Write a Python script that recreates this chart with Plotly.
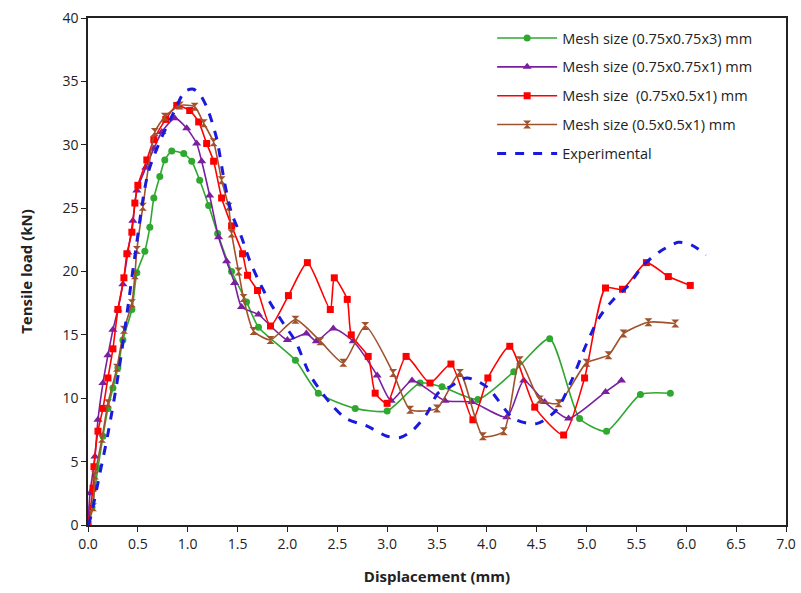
import plotly.graph_objects as go

# Mesh size (0.75x0.75x3) mm
green_x = [0, 0.04, 0.10, 0.15, 0.20, 0.25, 0.30, 0.35, 0.44, 0.49, 0.57, 0.62, 0.66, 0.72, 0.77, 0.84,
           0.96, 1.04, 1.12, 1.21, 1.30, 1.44, 1.59, 1.71, 2.08, 2.31, 2.68, 3.00, 3.33, 3.55, 3.91,
           4.27, 4.63, 4.93, 5.20, 5.54, 5.84]
green_y = [0, 1.4, 4.5, 7.0, 9.2, 10.8, 12.4, 14.6, 17.0, 19.9, 21.6, 23.5, 25.8, 27.5, 28.8, 29.5,
           29.3, 28.7, 27.2, 25.2, 23.0, 20.0, 17.6, 15.6, 13.0, 10.4, 9.2, 9.0, 11.2, 10.9, 9.9,
           12.1, 14.7, 8.4, 7.4, 10.3, 10.4]

# Mesh size (0.75x0.75x1) mm
purple_x = [0, 0.02, 0.07, 0.10, 0.15, 0.20, 0.25, 0.30, 0.35, 0.40, 0.45, 0.49, 0.58, 0.66, 0.74,
            0.87, 0.99, 1.09, 1.14, 1.22, 1.31, 1.39, 1.47, 1.54, 1.71, 2.00, 2.19, 2.29, 2.46,
            2.66, 2.90, 3.04, 3.25, 3.58, 3.85, 4.20, 4.37, 4.58, 4.82, 5.19, 5.35]
purple_y = [0, 2.5, 5.4, 8.3, 11.2, 13.4, 15.4, 17.0, 19.0, 21.5, 24.0, 26.4, 28.2, 29.7, 31.0,
            32.1, 31.3, 30.1, 28.7, 26.0, 22.7, 20.8, 19.1, 17.2, 16.6, 14.6, 15.1, 14.5, 15.5,
            14.5, 11.8, 9.8, 11.4, 9.8, 9.7, 8.5, 11.4, 9.7, 8.4, 10.5, 11.4]

# Mesh size (0.75x0.5x1) mm
red_x = [0, 0.05, 0.06, 0.10, 0.15, 0.20, 0.25, 0.30, 0.36, 0.39, 0.44, 0.47, 0.50, 0.59, 0.66,
         0.78, 0.89, 1.02, 1.11, 1.19, 1.26, 1.34, 1.44, 1.55, 1.60, 1.70, 1.83, 2.01, 2.20,
         2.43, 2.47, 2.60, 2.64, 2.81, 2.88, 3.00, 3.19, 3.43, 3.64, 3.86, 4.01, 4.23, 4.48,
         4.77, 4.98, 5.19, 5.36, 5.60, 5.82, 6.04]
red_y = [0, 2.9, 4.6, 7.4, 9.2, 11.6, 13.9, 17.0, 19.5, 21.4, 23.1, 25.4, 26.8, 28.8, 30.4,
         32.0, 33.1, 32.7, 31.8, 30.1, 28.7, 25.8, 23.6, 21.4, 19.7, 18.5, 15.7, 18.1, 20.7,
         17.0, 19.5, 17.8, 15.0, 13.3, 10.4, 9.6, 13.3, 11.2, 12.7, 8.3, 11.6, 14.1, 9.3,
         7.1, 11.6, 18.7, 18.6, 20.7, 19.6, 18.9]

# Mesh size (0.5x0.5x1) mm
brown_x = [0, 0.05, 0.07, 0.14, 0.20, 0.29, 0.36, 0.44, 0.47, 0.49, 0.55, 0.67, 0.77, 0.92, 1.07,
           1.16, 1.26, 1.34, 1.41, 1.44, 1.51, 1.56, 1.66, 1.83, 2.08, 2.33, 2.56, 2.78, 3.06,
           3.23, 3.50, 3.73, 3.96, 4.17, 4.33, 4.53, 4.72, 5.00, 5.22, 5.37, 5.62, 5.89]
brown_y = [0, 1.4, 3.9, 6.8, 9.6, 12.4, 15.4, 17.5, 19.7, 21.7, 25.1, 31.0, 32.2, 33.1, 33.0,
           31.7, 30.2, 27.2, 25.1, 23.0, 20.0, 17.9, 15.3, 14.6, 16.2, 14.5, 12.8, 15.7, 12.0,
           9.1, 9.2, 12.0, 7.0, 7.4, 13.0, 9.9, 9.6, 12.8, 13.4, 15.1, 16.0, 15.9]

# Experimental
exp_x = [0, 0.02, 0.12, 0.20, 0.29, 0.34, 0.40, 0.47, 0.60, 0.74, 0.87, 0.97, 1.05, 1.12, 1.20,
         1.29, 1.37, 1.44, 1.54, 1.62, 1.71, 1.83, 1.96, 2.08, 2.23, 2.43, 2.59, 2.80, 3.00,
         3.13, 3.26, 3.40, 3.51, 3.63, 3.80, 4.00, 4.27, 4.50, 4.70, 4.85, 5.00, 5.13, 5.27,
         5.42, 5.57, 5.74, 5.92, 6.05, 6.20]
exp_y = [0, 0.4, 4.1, 7.2, 11.2, 13.8, 17.2, 21.2, 27.7, 30.6, 32.7, 34.2, 34.4, 34.0, 32.8,
         30.5, 27.0, 24.6, 22.7, 20.9, 19.3, 17.5, 15.9, 14.5, 11.8, 9.6, 8.4, 7.8, 7.0,
         6.9, 7.5, 8.8, 10.4, 10.9, 11.6, 10.9, 8.4, 8.0, 9.1, 11.4, 14.3, 16.4, 17.8,
         18.9, 20.5, 21.6, 22.3, 22.1, 21.3]

x_ticks = [0, 0.5, 1, 1.5, 2, 2.5, 3, 3.5, 4, 4.5, 5, 5.5, 6, 6.5, 7]
y_ticks = [0, 5, 10, 15, 20, 25, 30, 35, 40]

fig = go.Figure()

series = [
    ("Mesh size (0.75x0.75x3) mm", green_x, green_y, "#2fa82f", "circle", 7),
    ("Mesh size (0.75x0.75x1) mm", purple_x, purple_y, "#7a1fa0", "triangle-up", 8),
    ("Mesh size  (0.75x0.5x1) mm", red_x, red_y, "#ff0000", "square", 7),
    ("Mesh size (0.5x0.5x1) mm", brown_x, brown_y, "#a0522d", "hourglass", 8),
]
for i, (name, xs, ys, col, sym, sz) in enumerate(series):
    fig.add_trace(go.Scatter(
        x=xs, y=ys, name=name, mode="lines+markers", legendgroup=f"g{i}",
        line=dict(color=col, width=1.6, shape="spline", smoothing=0.6),
        marker=dict(color=col, symbol=sym, size=sz),
    ))

fig.add_trace(go.Scatter(
    x=exp_x, y=exp_y, name="Experimental", mode="lines", legendgroup="g4",
    line=dict(color="#1a1adc", width=3, dash="dash", shape="spline", smoothing=0.8),
))

fig.update_layout(
    width=801, height=593,
    margin=dict(l=88, r=15, t=18, b=68),
    plot_bgcolor="white", paper_bgcolor="white",
    font=dict(family="Open Sans, Liberation Sans, sans-serif", color="#222"),
    legend=dict(x=0.579, y=0.992, xanchor="left", yanchor="top",
                bgcolor="rgba(255,255,255,0)", font=dict(size=14.5),
                itemwidth=60, tracegroupgap=7),
    showlegend=True,
)
fig.update_xaxes(
    range=[0, 7], tickvals=x_ticks, ticktext=[f"{v:.1f}" for v in x_ticks],
    showline=True, linecolor="#222", linewidth=1.5, mirror=True,
    ticks="outside", ticklen=5, tickcolor="#222", showgrid=False, zeroline=False,
    tickfont=dict(size=14), automargin=False,
    title=dict(text="<b>Displacement (mm)</b>", font=dict(size=15), standoff=20),
)
fig.update_yaxes(
    range=[0, 40], tickvals=y_ticks,
    showline=True, linecolor="#222", linewidth=1.5, mirror=True,
    ticks="outside", ticklen=5, tickcolor="#222", showgrid=False, zeroline=False,
    tickfont=dict(size=14), automargin=False,
    title=dict(text="<b>Tensile load (kN)</b>", font=dict(size=15), standoff=26),
)

fig.write_html("out.html")
